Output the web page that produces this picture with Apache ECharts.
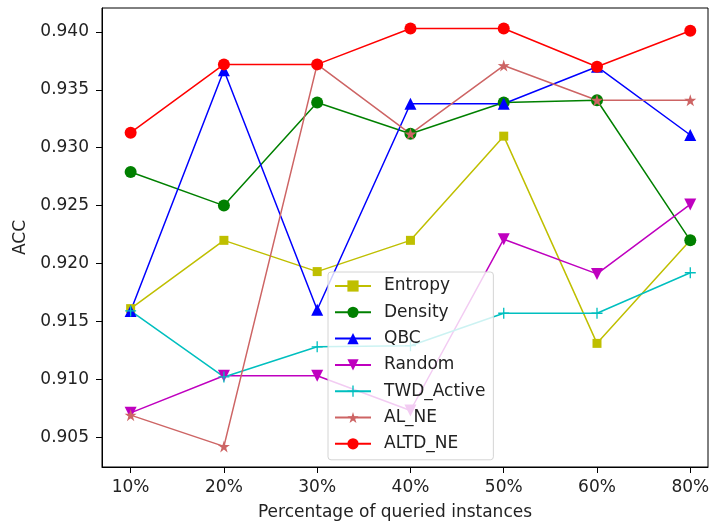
<!DOCTYPE html>
<html>
<head>
<meta charset="UTF-8">
<title>ACC vs queried instances</title>
<script src="https://cdn.jsdelivr.net/npm/echarts@6/dist/echarts.min.js"></script>
<style>
  html, body { margin: 0; padding: 0; background: #fff; }
  #main { width: 711px; height: 521px; }
</style>
</head>
<body>
<div id="main"></div>
<script>
// x categories
var categories = ['10%', '20%', '30%', '40%', '50%', '60%', '80%'];
var yTicks = [0.905, 0.910, 0.915, 0.920, 0.925, 0.930, 0.935, 0.940];

// series values
var entropy   = [0.9161, 0.9220, 0.9193, 0.9220, 0.9310, 0.9131, 0.9220];
var density   = [0.9279, 0.9250, 0.9339, 0.9312, 0.9339, 0.9341, 0.9220];
var qbc       = [0.9159, 0.9367, 0.9160, 0.9338, 0.9338, 0.9370, 0.9311];
var random    = [0.9071, 0.9103, 0.9103, 0.9073, 0.9221, 0.9191, 0.9251];
var twdActive = [0.9159, 0.9102, 0.9128, 0.9129, 0.9157, 0.9157, 0.9192];
var alNe      = [0.9069, 0.9042, 0.9372, 0.9312, 0.9371, 0.9341, 0.9341];
var altdNe    = [0.9313, 0.9372, 0.9372, 0.9403, 0.9403, 0.9370, 0.9401];

var starPath = 'path://M50,0 L61.17,34.63 L97.55,34.55 L68.07,55.87 L79.39,90.45 L50,69 L20.61,90.45 L31.93,55.87 L2.45,34.55 L38.83,34.63 Z';
var plusPath = 'path://M4.4,0h1.2v10h-1.2z M0,4.4h10v1.2h-10z';

var FONT = 'DejaVu Sans';

function pts(arr) {
  return arr.map(function (v, i) { return [i, v]; });
}

function mk(name, data, color, symbol, size, rotate) {
  return {
    name: name,
    type: 'line',
    data: pts(data),
    symbol: symbol,
    symbolSize: size,
    symbolRotate: rotate || 0,
    showAllSymbol: true,
    lineStyle: { color: color, width: 1.5 },
    itemStyle: { color: color },
    emphasis: { disabled: true },
    animation: false
  };
}

var idx = categories.map(function (c, i) { return i; });

var chart = echarts.init(document.getElementById('main'));
chart.setOption({
  animation: false,
  grid: {
    left: 102, top: 8, right: 3, bottom: 54,
    outerBoundsMode: 'none',
    containLabel: false,
    show: true, borderColor: '#000', borderWidth: 1, backgroundColor: '#fff'
  },
  xAxis: {
    type: 'value',
    min: -0.307, max: 6.19,
    name: 'Percentage of queried instances',
    nameLocation: 'middle',
    nameGap: 37,
    nameTextStyle: { fontFamily: FONT, fontSize: 17, color: '#222', padding: [0, 20, 0, 0] },
    axisLine: { show: true, onZero: false, lineStyle: { color: '#000', width: 1 } },
    axisTick: { show: true, length: 6, lineStyle: { color: '#000' }, customValues: idx },
    axisLabel: {
      customValues: idx,
      fontFamily: FONT, fontSize: 17, color: '#222', margin: 12,
      formatter: function (v) { return categories[Math.round(v)]; }
    },
    splitLine: { show: false }
  },
  yAxis: {
    type: 'value',
    min: 0.90242, max: 0.94207,
    name: 'ACC',
    nameLocation: 'middle',
    nameGap: 68,
    nameTextStyle: { fontFamily: FONT, fontSize: 17, color: '#222' },
    axisLine: { show: true, onZero: false, lineStyle: { color: '#000', width: 1 } },
    axisTick: { show: true, length: 6, lineStyle: { color: '#000' }, customValues: yTicks },
    axisLabel: {
      customValues: yTicks,
      fontFamily: FONT, fontSize: 17, color: '#222', margin: 13,
      formatter: function (v) { return v.toFixed(3); }
    },
    splitLine: { show: false }
  },
  legend: {
    orient: 'vertical',
    left: 328, top: 272,
    padding: [5, 8, 7, 6],
    itemWidth: 36, itemHeight: 14, itemGap: 8.3,
    backgroundColor: 'rgba(255,255,255,0.8)',
    borderColor: '#d4d4d4', borderWidth: 1, borderRadius: 3,
    textStyle: { fontFamily: FONT, fontSize: 17, color: '#222', lineHeight: 18, padding: [0, 0, 0, 8] },
    data: ['Entropy', 'Density', 'QBC', 'Random', 'TWD_Active', 'AL_NE', 'ALTD_NE']
  },
  series: [
    mk('Entropy', entropy, '#bfbf00', 'rect', 9),
    mk('Density', density, '#008000', 'circle', 12),
    mk('QBC', qbc, '#0000ff', 'triangle', 12),
    mk('Random', random, '#bf00bf', 'triangle', 12, 180),
    mk('TWD_Active', twdActive, '#00bfbf', plusPath, 11),
    mk('AL_NE', alNe, '#cd6464', starPath, 12),
    mk('ALTD_NE', altdNe, '#ff0000', 'circle', 12)
  ]
});
</script>
</body>
</html>
